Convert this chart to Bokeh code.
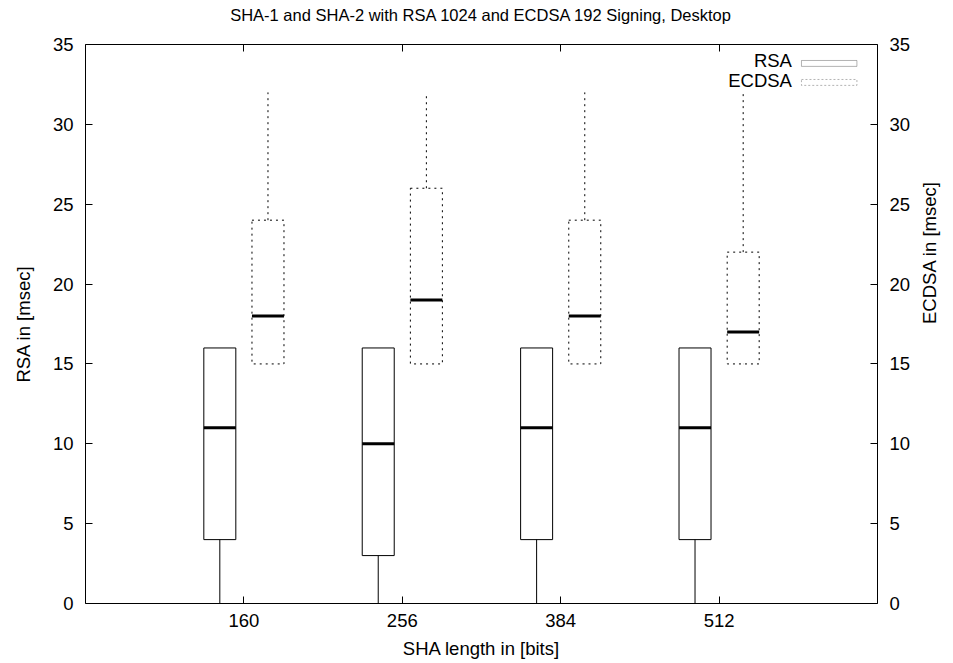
from bokeh.plotting import figure
from bokeh.models import Range1d, LinearAxis, FixedTicker, BoxAnnotation, Label, ColumnDataSource
from bokeh.embed import file_html
from bokeh.resources import INLINE
import math

# ---- data ----
sha_lengths = ["160", "256", "384", "512"]
y_ticks = [0, 5, 10, 15, 20, 25, 30, 35]

rsa_min = [0, 0, 0, 0]
rsa_q1 = [4, 3, 4, 4]
rsa_med = [11, 10, 11, 11]
rsa_q3 = [16, 16, 16, 16]
rsa_max = [16, 16, 16, 16]

ecdsa_min = [15, 15, 15, 15]
ecdsa_q1 = [15, 15, 15, 15]
ecdsa_med = [18, 19, 18, 17]
ecdsa_q3 = [24, 26, 24, 22]
ecdsa_max = [32, 32, 32, 32]

TITLE = "SHA-1 and SHA-2 with RSA 1024 and ECDSA 192 Signing, Desktop"
FONT = "Liberation Sans"
TXT = "18.5px"
OFFSET = 0.152
BOXW = 0.202

pos = [i + 1 for i in range(len(sha_lengths))]

p = figure(width=953, height=663, x_range=Range1d(0, len(sha_lengths) + 1), y_range=Range1d(0, 35),
           output_backend="svg", toolbar_location=None,
           x_axis_location=None, y_axis_location=None,
           min_border_left=85, min_border_right=76, min_border_top=44, min_border_bottom=60)
p.grid.visible = False
p.outline_line_color = "black"
p.outline_line_width = 1
p.background_fill_color = "white"
p.border_fill_color = "white"
p.title.text = ""


def style_axis(ax, label_size=TXT):
    ax.major_tick_in = 7
    ax.major_tick_out = 0
    ax.minor_tick_in = 0
    ax.minor_tick_out = 0
    ax.axis_line_color = None
    ax.major_tick_line_color = "black"
    ax.major_label_text_font = FONT
    ax.major_label_text_font_size = label_size
    ax.major_label_text_color = "black"
    ax.axis_label_text_font = FONT
    ax.axis_label_text_font_size = TXT
    ax.axis_label_text_font_style = "normal"
    ax.axis_label_text_color = "black"
    ax.major_label_standoff = 12


xticker = FixedTicker(ticks=pos)
overrides = {x: s for x, s in zip(pos, sha_lengths)}

bottom = LinearAxis(ticker=xticker, axis_label="SHA length in [bits]")
style_axis(bottom)
bottom.major_label_overrides = overrides
bottom.major_label_standoff = 10
bottom.axis_label_standoff = 8
p.add_layout(bottom, "below")

# top axis: inward ticks only, and the chart title as its label
top = LinearAxis(ticker=xticker, axis_label=TITLE)
style_axis(top, "0px")
top.major_label_standoff = 0
top.major_label_text_alpha = 0
top.axis_label_text_font_size = "16.5px"
top.axis_label_standoff = 21
p.add_layout(top, "above")

left = LinearAxis(ticker=FixedTicker(ticks=y_ticks), axis_label="RSA in [msec]")
style_axis(left)
left.axis_label_standoff = 16
p.add_layout(left, "left")

right = LinearAxis(ticker=FixedTicker(ticks=y_ticks), axis_label="ECDSA in [msec]")
style_axis(right)
right.axis_label_standoff = 16
try:
    right.axis_label_orientation = math.pi / 2
except Exception:
    pass
p.add_layout(right, "right")

# ---- boxes ----
rsa_x = [x - OFFSET for x in pos]
ecdsa_x = [x + OFFSET for x in pos]

rsa_src = ColumnDataSource(dict(x=rsa_x, mn=rsa_min, q1=rsa_q1, med=rsa_med, q3=rsa_q3, mx=rsa_max,
                                l=[x - BOXW / 2 for x in rsa_x], r=[x + BOXW / 2 for x in rsa_x]))
ec_src = ColumnDataSource(dict(x=ecdsa_x, mn=ecdsa_min, q1=ecdsa_q1, med=ecdsa_med, q3=ecdsa_q3, mx=ecdsa_max,
                               l=[x - BOXW / 2 for x in ecdsa_x], r=[x + BOXW / 2 for x in ecdsa_x]))

for src, dash in [(rsa_src, "solid"), (ec_src, "2 4")]:
    p.segment(x0="x", y0="mn", x1="x", y1="q1", source=src, line_color="black", line_width=1, line_dash=dash)
    p.segment(x0="x", y0="q3", x1="x", y1="mx", source=src, line_color="black", line_width=1, line_dash=dash)
    p.quad(left="l", right="r", bottom="q1", top="q3", source=src, fill_color=None,
           line_color="black", line_width=1, line_dash=dash)
    p.segment(x0="l", y0="med", x1="r", y1="med", source=src, line_color="black", line_width=3)

# ---- legend ----
p.add_layout(Label(x=4.46, y=34.0, text="RSA", text_align="right", text_baseline="middle",
                   text_font=FONT, text_font_size=TXT, text_color="black"))
p.add_layout(Label(x=4.46, y=32.75, text="ECDSA", text_align="right", text_baseline="middle",
                   text_font=FONT, text_font_size=TXT, text_color="black"))
p.add_layout(BoxAnnotation(left=4.52, right=4.87, top=34.0, bottom=33.63, fill_color=None,
                           line_color="black", line_width=1))
p.add_layout(BoxAnnotation(left=4.52, right=4.87, top=32.81, bottom=32.44, fill_color=None,
                           line_color="black", line_width=1, line_dash="2 2"))

open("out.html", "w").write(file_html(p, INLINE))
